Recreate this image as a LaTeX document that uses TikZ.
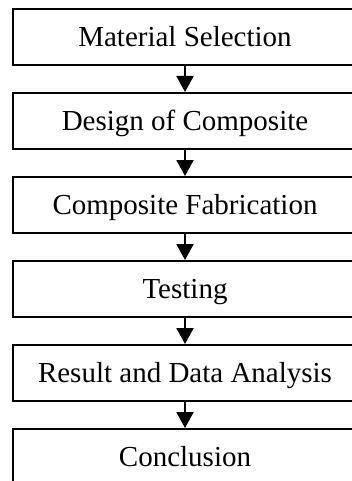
\documentclass[tikz,border=0pt]{standalone}
\usepackage{fontspec}
\setmainfont{Liberation Serif}
\usetikzlibrary{arrows.meta,positioning}
\tikzset{
  stepbox/.style = {draw, line width=2pt, minimum width=344pt, minimum height=56pt,
  inner sep=0pt, text height=19pt, text depth=0pt, font=\fontsize{29}{35}\selectfont},
  stage/.style = {stepbox}
}
\begin{document}
\begin{tikzpicture}[x=1pt,y=1pt,node distance=26pt,
        flow/.style={line width=2pt, -{Triangle[width=17pt,length=16pt]}}]
    \useasboundingbox (0,0) rectangle (352,-481);
    \node [stage] (sel) at (185,-37) {Material Selection};
    \node [stage, below=of sel] (des) {Design of Composite};
    \node [stage, below=of des] (fab) {Composite Fabrication};
    \node [stage, below=of fab] (tst) {Testing};
    \node [stage, below=of tst] (res) {Result and Data Analysis};
    \node [stage, below=of res] (con) {Conclusion};
    \draw [flow] (sel) -- (des);
    \draw [flow] (des) -- (fab);
    \draw [flow] (fab) -- (tst);
    \draw [flow] (tst) -- (res);
    \draw [flow] (res) -- (con);
\end{tikzpicture}
\end{document}
